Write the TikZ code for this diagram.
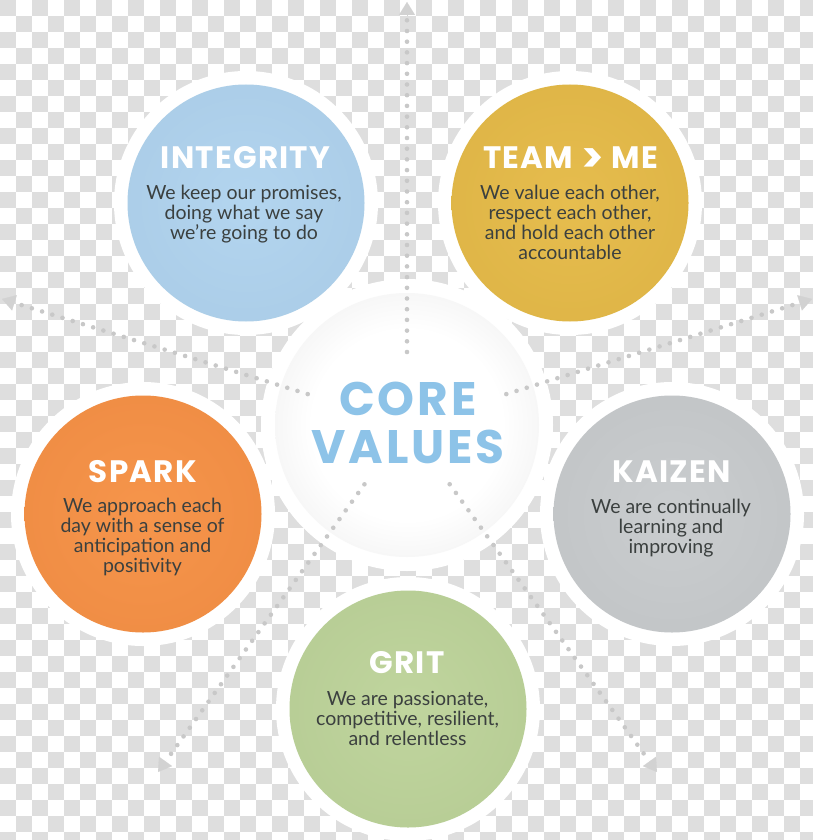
\documentclass[tikz,border=0pt]{standalone}
\usepackage{fontspec}
\newfontfamily\titlefont{Poppins}[LetterSpace=4]
\newfontfamily\corefont{Poppins}[LetterSpace=6]
\newfontfamily\bodyfont{Lato}
\usetikzlibrary{arrows.meta,calc}
\definecolor{chk}{HTML}{DEDEDE}
\definecolor{dotc}{HTML}{C8C8C8}
\definecolor{tipc}{HTML}{D2D2D2}
\definecolor{bodyc}{HTML}{3B403F}
\definecolor{corec}{HTML}{8DC3E8}
\definecolor{blueA}{HTML}{B3D5EF}\definecolor{blueB}{HTML}{A9CBE6}\definecolor{blueC}{HTML}{8DADC7}
\definecolor{goldA}{HTML}{E6BD4E}\definecolor{goldB}{HTML}{DDB345}\definecolor{goldC}{HTML}{C29A36}
\definecolor{oraA}{HTML}{F6954B}\definecolor{oraB}{HTML}{EE8B43}\definecolor{oraC}{HTML}{CF7330}
\definecolor{greyA}{HTML}{CACDCF}\definecolor{greyB}{HTML}{C0C3C5}\definecolor{greyC}{HTML}{A0A3A5}
\definecolor{grnA}{HTML}{C0D59E}\definecolor{grnB}{HTML}{B5CB93}\definecolor{grnC}{HTML}{97AD77}
\definecolor{coreB}{HTML}{E8E8E8}
\definecolor{coreC}{HTML}{BEBEBE}
\pgfdeclareradialshading{shBlue}{\pgfpoint{0bp}{0bp}}{color(0bp)=(blueA); color(34bp)=(blueB); color(50bp)=(blueC)}
\pgfdeclareradialshading{shGold}{\pgfpoint{0bp}{0bp}}{color(0bp)=(goldA); color(34bp)=(goldB); color(50bp)=(goldC)}
\pgfdeclareradialshading{shOra}{\pgfpoint{0bp}{0bp}}{color(0bp)=(oraA); color(34bp)=(oraB); color(50bp)=(oraC)}
\pgfdeclareradialshading{shGrey}{\pgfpoint{0bp}{0bp}}{color(0bp)=(greyA); color(34bp)=(greyB); color(50bp)=(greyC)}
\pgfdeclareradialshading{shGrn}{\pgfpoint{0bp}{0bp}}{color(0bp)=(grnA); color(34bp)=(grnB); color(50bp)=(grnC)}
\pgfdeclareradialshading{shCore}{\pgfpoint{0bp}{0bp}}{color(0bp)=(white); color(18bp)=(white); color(38bp)=(coreB); color(50bp)=(coreC)}
\tikzset{
  valdisc/.style={circle, minimum size=237pt, inner sep=0pt, shade},
  coredisc/.style={circle, minimum size=264pt, inner sep=0pt, shade, shading=shCore},
  ringdisc/.style={circle, fill=white, minimum size=#1, inner sep=0pt},
  titletxt/.style={text=white, font=\titlefont\bfseries\fontsize{31}{31}\selectfont, anchor=base, inner sep=0pt},
  bodytxt/.style={text=bodyc, font=\bodyfont\fontsize{19.5}{20}\selectfont, align=center, anchor=north, inner sep=0pt},
  dotline/.style={draw=dotc, line width=4.6pt, line cap=round, dash pattern=on 0pt off 10.7pt},
  tipline/.style={draw=tipc, fill=tipc, line width=0.1pt, -{Triangle[length=13pt,width=16pt]}}
}
\begin{document}
\begin{tikzpicture}[x=1pt,y=-1pt]
\useasboundingbox (0,0) rectangle (813,840);
\fill[white] (0,0) rectangle (813,840);
\foreach \r in {0,...,52}{
  \pgfmathtruncatemacro\off{mod(\r,2)}
  \foreach \c in {0,...,25}{
    \fill[chk] ({32*\c+16*\off},{16*\r}) rectangle +(16,16);
  }
}
% centre and arrow tips
\coordinate (c) at (407,425);
\coordinate (tU) at (407,2);
\coordinate (tUL) at (2,299);
\coordinate (tUR) at (812,299);
\coordinate (tLL) at (158,772);
\coordinate (tLR) at (657,772);
% rings
\node[ringdisc=264pt] (ringI) at (246,203) {};
\node[ringdisc=264pt] (ringT) at (570,203) {};
\node[ringdisc=264pt] (ringS) at (143,514) {};
\node[ringdisc=264pt] (ringK) at (672,514) {};
\node[ringdisc=264pt] (ringG) at (408,709) {};
\node[ringdisc=292pt] (ringC) at (c) {};
% core disc
\node[coredisc] (core) at (c) {};
% dotted connectors
\draw[dotline] ($(c)!73pt!(tU)$) -- ($(tU)!17pt!(c)$);
\draw[dotline] ($(c)!104pt!(tUL)$) -- ($(tUL)!17pt!(c)$);
\draw[dotline] ($(c)!104pt!(tUR)$) -- ($(tUR)!17pt!(c)$);
\draw[dotline] ($(c)!73pt!(tLL)$) -- ($(tLL)!17pt!(c)$);
\draw[dotline] ($(c)!73pt!(tLR)$) -- ($(tLR)!17pt!(c)$);
\draw[tipline] ($(tU)!14pt!(c)$) -- (tU);
\draw[tipline] ($(tUL)!14pt!(c)$) -- (tUL);
\draw[tipline] ($(tUR)!14pt!(c)$) -- (tUR);
\draw[tipline] ($(tLL)!14pt!(c)$) -- (tLL);
\draw[tipline] ($(tLR)!14pt!(c)$) -- (tLR);
% value discs
\node[valdisc, shading=shBlue] (integrity) at (246,203) {};
\node[valdisc, shading=shGold] (team) at (570,203) {};
\node[valdisc, shading=shOra] (spark) at (143,514) {};
\node[valdisc, shading=shGrey] (kaizen) at (672,514) {};
\node[valdisc, shading=shGrn] (grit) at (408,709) {};
% core text
\node[text=corec, font=\corefont\bfseries\fontsize{47}{48}\selectfont, align=center, inner sep=0pt] (coretxt) at (408,422.5) {CORE\\VALUES};
% titles
\node[titletxt] (tI) at (245.5,168) {INTEGRITY};
\node[titletxt] (tT) at (570.5,168) {TEAM \raisebox{-4pt}{\scalebox{1.35}{>}} ME};
\node[titletxt] (tS) at (143,482) {SPARK};
\node[titletxt] (tK) at (671.5,482) {KAIZEN};
\node[titletxt] (tG) at (407,673) {GRIT};
% bodies
\node[bodytxt] (bI) at (244,185) {We keep our promises,\\doing what we say\\we’re going to do};
\node[bodytxt] (bT) at (570,185) {We value each other,\\respect each other,\\and hold each other\\accountable};
\node[bodytxt] (bS) at (142.5,498) {We approach each\\day with a sense of\\anticipation and\\positivity};
\node[bodytxt] (bK) at (671,499) {We are continually\\learning and\\improving};
\node[bodytxt] (bG) at (407.5,691) {We are passionate,\\competitive, resilient,\\and relentless};
\end{tikzpicture}
\end{document}
